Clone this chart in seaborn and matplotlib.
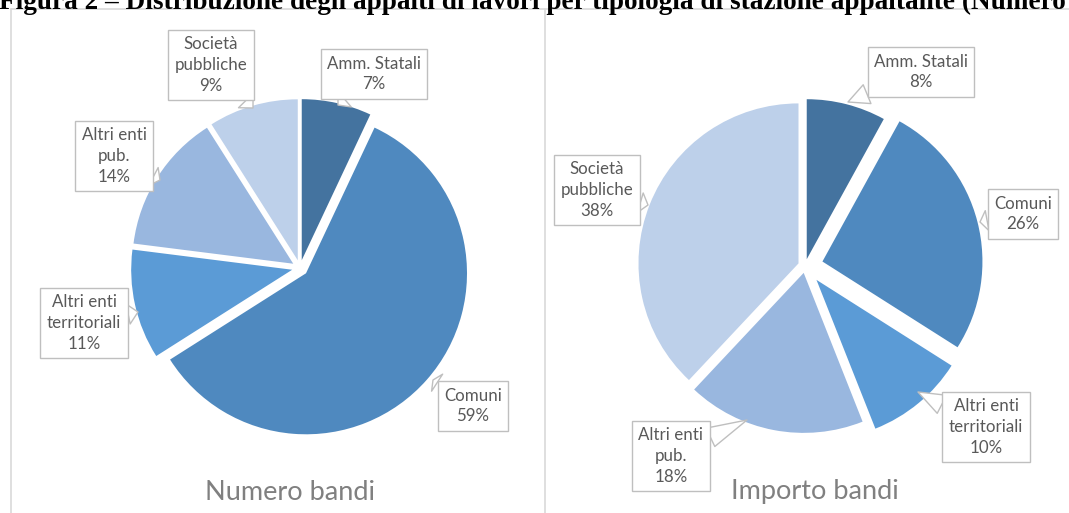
import matplotlib
matplotlib.use("Agg")
import matplotlib.pyplot as plt
import seaborn as sns

# Data: share of tenders by type of contracting authority
categories = ["Amm. Statali", "Comuni", "Altri enti territoriali",
              "Altri enti pub.", "Società pubbliche"]
box_labels = ["Amm. Statali", "Comuni", "Altri enti\nterritoriali",
              "Altri enti\npub.", "Società\npubbliche"]
numero_bandi = [7, 59, 11, 14, 9]
importo_bandi = [8, 26, 10, 18, 38]
panel_titles = ["Numero bandi", "Importo bandi"]
fig_title = ("Figura 2 \u2013 Distribuzione degli appalti di lavori per tipologia "
             "di stazione appaltante (Numero")

sns.set_theme(style="white")
plt.rcParams["font.family"] = ["Lato", "DejaVu Sans"]

colors = ["#44739F", "#4F89BF", "#5B9BD6", "#99B7DF", "#BDD0EA"]
text_gray = "#595959"
box_edge = "#BFBFBF"
frame_gray = "#D9D9D9"

W, H = 1069, 513
fig = plt.figure(figsize=(W / 100, H / 100), dpi=100)
ax = fig.add_axes([0, 0, 1, 1])

# pie geometry in pixel units (y grows downward)
pies = [
    dict(values=numero_bandi, center=(300, 268), radius=161,
         explode=[8, 8, 8, 8, 8],
         boxes=[(374, 74), (473, 406), (84, 323), (114, 156), (211, 65)],
         tips=[(338, 105), (433, 380), (138, 312), (160, 180), (253, 108)],
         title_x=290),
    dict(values=importo_bandi, center=(805, 266), radius=160,
         explode=[7, 18, 18, 7, 7],
         boxes=[(921, 72), (1023, 214), (986, 427), (671, 456), (597, 190)],
         tips=[(848, 102), (980, 222), (918, 392), (747, 420), (648, 205)],
         title_x=815),
]

for p, title in zip(pies, panel_titles):
    ax.pie(p["values"], colors=colors, startangle=-90, counterclock=True,
           center=p["center"], radius=p["radius"], explode=p["explode"],
           wedgeprops=dict(linewidth=0))
    for lab, val, bxy, tip in zip(box_labels, p["values"], p["boxes"], p["tips"]):
        ax.annotate(f"{lab}\n{val}%", xy=tip, xytext=bxy,
                    ha="center", va="center", fontsize=12.2, color=text_gray,
                    linespacing=1.36, zorder=5,
                    bbox=dict(boxstyle="square,pad=0.38", fc="white",
                              ec=box_edge, lw=1.0),
                    arrowprops=dict(arrowstyle="wedge,tail_width=1.2,shrink_factor=0.5",
                                    fc="white", ec=box_edge, lw=1.0,
                                    shrinkA=0, shrinkB=0))
    ax.text(p["title_x"], 492, title, ha="center", va="center",
            fontsize=19.5, color="#808080")

# chart area frames
ax.plot([11, 11], [9, H], color=frame_gray, lw=1.2)
ax.plot([11, W], [9, 9], color=frame_gray, lw=1.2)
ax.plot([545, 545], [9, H], color=frame_gray, lw=1.2)

# figure caption (cut by the top edge)
ax.text(-1, 9, fig_title, ha="left", va="baseline", fontsize=19.6,
        fontweight="bold", color="black",
        family=["Liberation Serif", "DejaVu Serif"])

ax.set_xlim(0, W)
ax.set_ylim(H, 0)
ax.set_aspect("auto")
ax.axis("off")

fig.savefig("out.png", dpi=100)
